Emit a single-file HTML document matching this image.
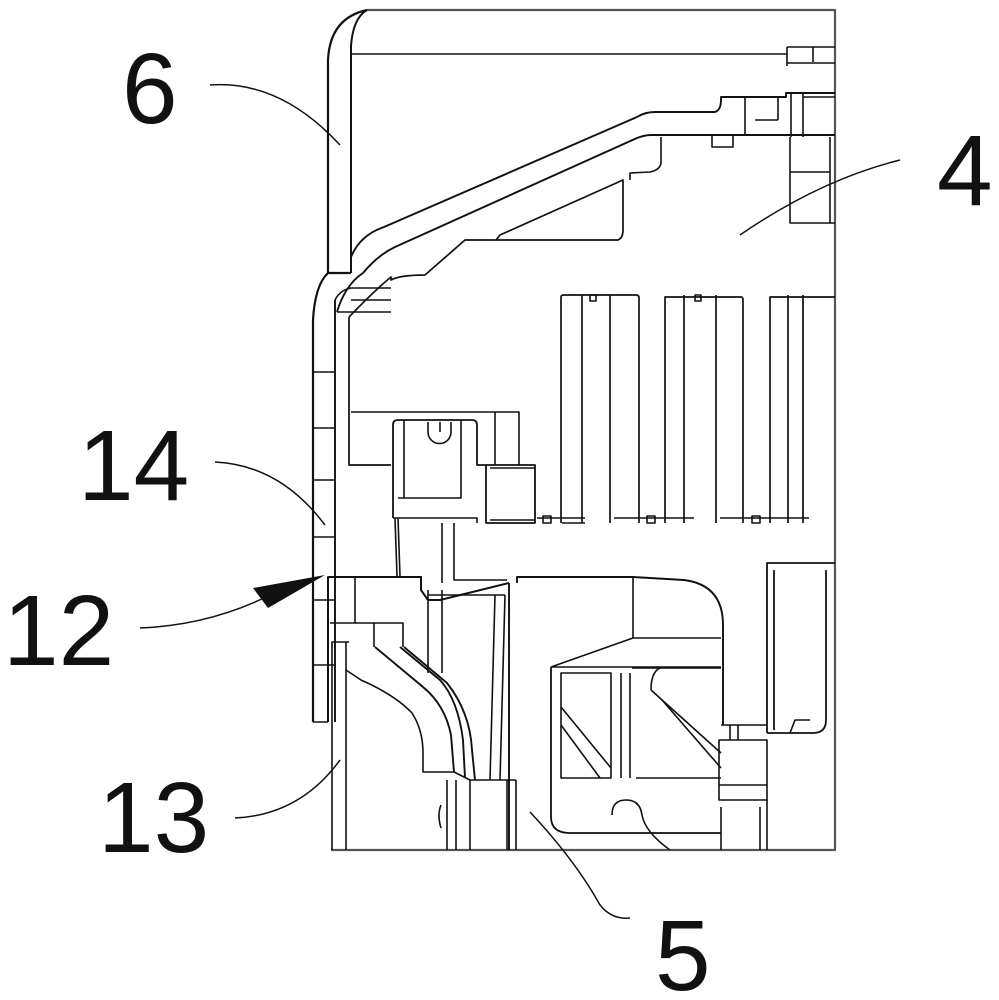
<!DOCTYPE html>
<html><head><meta charset="utf-8"><style>html,body{margin:0;padding:0;background:#fff}svg{display:block}</style></head><body>
<svg width="999" height="1000" viewBox="0 0 999 1000" xmlns="http://www.w3.org/2000/svg" fill="none" stroke="#111" stroke-width="1.6" stroke-linejoin="round">
<!-- frame -->
<path d="M367 10 H835 V850 H331" stroke="#555" stroke-width="2.2"/>
<!-- panel 6 -->
<path d="M328 273 V60 Q330 18 367 10" stroke-width="2.2"/>
<path d="M351 273 V46 Q353 18 367 10" stroke-width="2"/>
<path d="M328 273 H351" stroke-width="2.2"/>
<path d="M351 54 H787 M787 47 V66 M787 47 H835 M813 47 V62 M787 63 H835"/>
<!-- upper band -->
<path d="M351 257 Q360 235 384 227 L637 117 Q645 112 655 112 H715 Q721 110 721 100 V97 H786 V93 H835" stroke-width="1.9"/>
<path d="M745 97 V135 M778 97 V120 M755 120 H778 M791 93 V137 M803 93 V137 M803 97 H835"/>
<path d="M337 312 Q345 285 363 273 Q378 255 395 247 L637 138 Q645 135 651 135 H835" stroke-width="1.9"/>
<path d="M349 317 Q375 290 391 277 V280 Q400 275 425 275 L465 240 H618 Q623 238 623 230 V180 L500 235 L496 240" stroke-width="1.7"/>
<path d="M661 137 V163 Q660 170 650 172 L630 173 V180" />
<path d="M335 300 Q340 290 351 288 H391 M337 312 H391 M351 300 H391"/>
<path d="M712 135 V147 H733 V135"/>
<path d="M790 137 V223 H835 M790 172 H830 M830 137 V223"/>
<!-- left wall 14 -->
<path d="M313 722 V320 Q315 285 328 273" stroke-width="2.2"/>
<path d="M335 722 V300" stroke-width="1.9"/>
<path d="M313 372 H335 M313 428 H335 M313 480 H335 M313 537 H335 M313 600 H335 M313 665 H335 M313 722 H328"/>
<!-- inner piece -->
<path d="M349 317 V465 H391" stroke-width="1.7"/>
<path d="M351 412 H519 V465 M495 412 V465"/>
<!-- ribs -->
<g stroke-width="1.7">
<path d="M561 523 V297 Q561 295 564 295 H636 Q639 295 639 298 V523"/>
<path d="M582 295 V523 M610 295 V523"/>
<path d="M665 523 V297 H741 Q743 297 743 300 V523"/>
<path d="M684 295 V523 M716 295 V523"/>
<path d="M770 523 V297 H835 M788 295 V523 M803 295 V523"/>
</g>
<path d="M537 518 H585 M614 518 H694 M720 518 H809 M562 523 H585"/>
<rect x="590" y="295" width="6" height="6"/><rect x="695" y="295" width="6" height="6"/>
<rect x="543" y="516" width="8" height="7"/><rect x="647" y="516" width="8" height="7"/><rect x="752" y="516" width="8" height="7"/>
<!-- connector -->
<path d="M393 518 V425 Q393 420 398 420 H472 Q477 420 477 425 V465 H486 V523 H535 V465 H486" stroke-width="1.8"/>
<path d="M404 420 V498 H461 V420 M404 498 H398 M393 518 H477 V523"/>
<path d="M428 422 V432 A11 11 0 0 0 451 432 V422 M440 422 V432"/>
<path d="M535 468 H490 M490 520 H535"/>
<!-- stems -->
<path d="M395 518 L397 576 M398 518 L400 576 M442 523 V583 M454 523 V580 H507"/>
<!-- lower block 12 -->
<path d="M328 722 V577 H421 V590 L428 600 H440 L509 583" stroke-width="2"/>
<path d="M330 623 H403 V647 M374 623 V647 M355 577 V623"/>
<path d="M332 850 V642 H349 M346 850 V642"/>
<path d="M346 670 L361 680 Q395 695 412 713 Q423 730 423 753 V772 H454 L470 780"/>
<path d="M375 647 L423 687 Q445 705 451 735 L454 772" stroke-width="1.9"/>
<path d="M400 647 L440 680 Q458 700 463 740 L465 778" stroke-width="1.9"/>
<path d="M404 647 L447 683 Q470 712 472 750 L475 780" stroke-width="1.9"/>
<path d="M428 590 V673 M442 590 V673 M428 595 H505 M495 595 L490 780 M505 595 L500 780"/>
<!-- block 5 -->
<path d="M509 583 V850 M517 583 V577 H633 L684 580 Q723 585 723 625 V725" stroke-width="1.9"/>
<path d="M633 577 V638 L551 667 M633 638 H721 M551 667 H721"/>
<path d="M551 667 V817 Q551 833 570 833 H721" stroke-width="1.8"/>
<path d="M561 673 H611 V778 H561 Z M561 707 L611 768 M561 725 L600 778"/>
<path d="M621 673 V778 M630 673 V778"/>
<path d="M632 668 H721 M636 778 H721 M651 690 Q651 672 660 668 M651 690 L721 753 M662 700 L721 768"/>
<path d="M612 815 Q612 800 626 800 Q640 800 642 815 Q645 832 670 850"/>
<!-- right stack -->
<path d="M767 733 V563 H835 M774 570 V730 M826 570 V720 Q826 733 813 733 H767" stroke-width="1.8"/>
<path d="M721 725 H767 M719 740 H767 V800 H719 Z M719 785 H767"/>
<path d="M721 807 V850 M760 807 V850 M767 800 V850 M730 725 V740 M738 725 V740"/>
<path d="M790 733 L795 720 H810"/>
<!-- lower left columns -->
<path d="M447 780 V850 M456 780 V850 M470 780 V850 M507 780 V850 M516 780 V850 M470 780 H516"/>
<path d="M441 805 Q437 815 441 828"/>
<!-- leaders -->
<g stroke="#111" stroke-width="1.5">
<path d="M210 85 Q280 80 340 145"/>
<path d="M900 160 Q820 180 740 235"/>
<path d="M215 462 Q280 465 325 525"/>
<path d="M140 628 Q210 625 270 595"/>
<path d="M235 818 Q300 815 340 760"/>
<path d="M530 812 Q575 860 600 905 Q612 920 630 918"/>
</g>
<path d="M325 575 L253 588 L268 608 Z" fill="#111" stroke="none"/>
<g font-family="Liberation Sans, sans-serif" font-size="100" fill="#111" stroke="none">
<text x="122" y="123">6</text>
<text x="937" y="205">4</text>
<text x="78" y="500">14</text>
<text x="3" y="665">12</text>
<text x="98" y="852">13</text>
<text x="655" y="990">5</text>
</g>
</svg>
</body></html>
